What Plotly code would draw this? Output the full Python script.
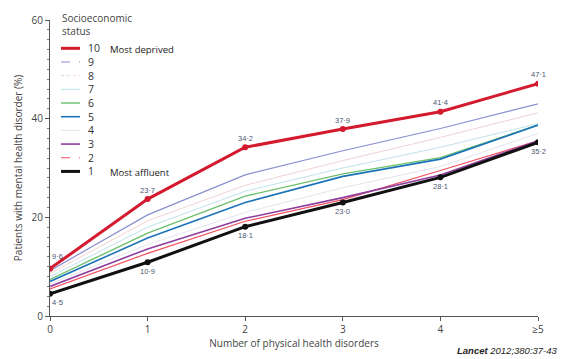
import plotly.graph_objects as go

x_vals = [0, 1, 2, 3, 4, 5]
x_ticklabels = ["0", "1", "2", "3", "4", "≥5"]
y_ticks = [0, 20, 40, 60]

s10 = [9.6, 23.7, 34.2, 37.9, 41.4, 47.1]
s9 = [9.2, 20.5, 28.6, 33.5, 38.0, 43.0]
s8 = [8.6, 19.3, 26.5, 31.5, 36.2, 41.2]
s7 = [8.0, 18.0, 25.3, 30.0, 34.2, 39.0]
s6 = [7.4, 16.8, 24.3, 28.8, 32.1, 38.7]
s5 = [7.0, 15.8, 23.0, 28.3, 31.8, 38.7]
s4 = [6.5, 14.5, 21.0, 26.0, 30.3, 37.0]
s3 = [6.0, 13.6, 19.8, 24.0, 28.6, 35.5]
s2 = [5.5, 12.7, 19.2, 23.6, 29.5, 35.5]
s1 = [4.5, 10.9, 18.1, 23.0, 28.1, 35.2]

series_names = ["10", "9", "8", "7", "6", "5", "4", "3", "2", "1"]
series_values = [s10, s9, s8, s7, s6, s5, s4, s3, s2, s1]
series_colors = ["#d41a2e", "#8a8fd0", "#f1d4d6", "#bfe2ea", "#6cbf6c", "#1b74b8",
                 "#e4e4ee", "#8e3e9e", "#f0505f", "#111111"]
series_widths = [3, 1.2, 1, 1, 1.4, 1.6, 1, 1.6, 1.2, 3]
legend_dash = ["solid", "dash", "dot", "solid", "solid", "solid", "solid", "solid", "dash", "solid"]
legend_notes = ["Most deprived", "", "", "", "", "", "", "", "", "Most affluent"]

label_top = ["9·6", "23·7", "34·2", "37·9", "41·4", "47·1"]
label_bottom = ["4·5", "10·9", "18·1", "23·0", "28·1", "35·2"]

fig = go.Figure()

order = [2, 6, 3, 1, 4, 5, 8, 7, 0, 9]
for i in order:
    thick = series_widths[i] >= 3
    fig.add_trace(go.Scatter(
        x=x_vals, y=series_values[i], mode="lines+markers" if thick else "lines",
        line=dict(color=series_colors[i], width=series_widths[i]),
        marker=dict(size=6, color=series_colors[i]),
        name=series_names[i], showlegend=False, hoverinfo="skip"))

annotations = []
lab_font = dict(size=7.5, color="#4a5670", family="Liberation Sans")
for j, xv in enumerate(x_vals):
    annotations.append(dict(x=xv, y=s10[j], text=label_top[j], showarrow=False,
                            xanchor="center", yanchor="middle",
                            xshift=7 if j == 0 else 0, yshift=12 if j == 0 else 9,
                            font=lab_font))
    annotations.append(dict(x=xv, y=s1[j], text=label_bottom[j], showarrow=False,
                            xanchor="center", yanchor="middle",
                            xshift=7 if j == 0 else 0, yshift=-9,
                            font=lab_font))

# manual legend (pixel -> paper)
L, R, T, B = 50, 538, 13, 316
def px(xp):
    return (xp - L) / (R - L)
def py(yp):
    return (B - yp) / (B - T)

shapes = []
annotations.append(dict(x=px(60), y=py(18), xref="paper", yref="paper",
                        text="Socioeconomic<br>status", showarrow=False, xanchor="left", yanchor="middle",
                        align="left", font=dict(size=10, color="#444", family="Open Sans")))
for k in range(10):
    yp = 42 + k * 14
    shapes.append(dict(type="line", xref="paper", yref="paper",
                       x0=px(61), x1=px(80), y0=py(yp), y1=py(yp),
                       line=dict(color=series_colors[k], width=min(series_widths[k], 3), dash=legend_dash[k])))
    annotations.append(dict(x=px(86), y=py(yp), xref="paper", yref="paper", text=series_names[k],
                            showarrow=False, xanchor="left", yanchor="middle",
                            font=dict(size=10.5, color="#333", family="Open Sans")))
    if legend_notes[k]:
        annotations.append(dict(x=px(108), y=py(yp + 1), xref="paper", yref="paper", text=legend_notes[k],
                                showarrow=False, xanchor="left", yanchor="middle",
                                font=dict(size=9.5, color="#222", family="Open Sans")))

annotations.append(dict(x=px(560), y=py(351), xref="paper", yref="paper",
                        text="<i><b>Lancet</b> 2012;380:37-43</i>", showarrow=False,
                        xanchor="right", yanchor="middle",
                        font=dict(size=9.5, color="#222", family="Liberation Sans")))

fig.update_layout(
    width=566, height=359,
    margin=dict(l=50, r=28, t=13, b=43),
    paper_bgcolor="white", plot_bgcolor="white",
    font=dict(family="Open Sans", size=10, color="#444"),
    shapes=shapes, annotations=annotations,
    xaxis=dict(range=[0, 5], tickvals=x_vals, ticktext=x_ticklabels, showgrid=False,
               zeroline=False, showline=True, linecolor="#555", linewidth=1.2,
               ticks="outside", ticklen=4, tickcolor="#555",
               title=dict(text="Number of physical health disorders", font=dict(size=10), standoff=3),
               tickfont=dict(size=10)),
    yaxis=dict(range=[0, 60], tickvals=y_ticks, showgrid=False, zeroline=False,
               showline=True, linecolor="#555", linewidth=1.2, ticks="outside", ticklen=4,
               tickcolor="#555",
               minor=dict(ticks="outside", ticklen=2, dtick=2, tickcolor="#777"),
               title=dict(text="Patients with mental health disorder (%)", font=dict(size=10), standoff=6),
               tickfont=dict(size=10)),
)

fig.write_html("out.html")
